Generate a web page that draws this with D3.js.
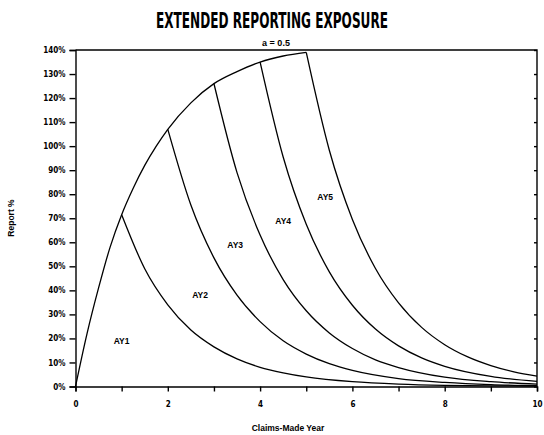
<!DOCTYPE html>
<html>
<head>
<meta charset="utf-8">
<script src="https://cdn.jsdelivr.net/npm/d3@7"></script>
<style>
  body { margin: 0; background: #fff; }
  text { font-family: "Liberation Sans", Arial, sans-serif; font-weight: bold; fill: #000; }
  .axis path, .axis line { stroke: #000; stroke-width: 1.4; }
  .axis text { font-family: "DejaVu Sans Condensed", "Liberation Sans", sans-serif; font-size: 8px; font-weight: bold; }
  .curve { fill: none; stroke: #000; stroke-width: 1.3; }
</style>
</head>
<body>
<div id="chart"></div>
<script>
// values (claims-made year, report %)
var envelopeT = [0, 0.25, 0.5, 0.75, 1, 1.25, 1.5, 1.75, 2, 2.5, 3, 3.5, 4, 4.5, 5];
var envelopeV = [0, 22, 41, 58, 71.5, 82.5, 92, 100, 107, 118, 126, 131, 135, 137.5, 139];

var ay1T = [1, 1.5, 2, 2.5, 3, 3.5, 4, 4.5, 5, 6, 7, 8, 9, 10];
var ay1V = [71.5, 49, 34, 23.5, 16.5, 11.5, 8, 5.7, 4, 2, 1, 0.5, 0.3, 0.2];
var ay2T = [2, 2.5, 3, 3.5, 4, 4.5, 5, 5.5, 6, 7, 8, 9, 10];
var ay2V = [107, 75.5, 53.5, 38, 27, 19, 13.5, 9.5, 6.7, 3.3, 1.7, 0.8, 0.4];
var ay3T = [3, 3.5, 4, 4.5, 5, 5.5, 6, 6.5, 7, 8, 9, 10];
var ay3V = [126, 89, 63, 44.5, 31.5, 22.3, 15.8, 11.1, 7.9, 3.9, 2, 1];
var ay4T = [4, 4.5, 5, 5.5, 6, 6.5, 7, 7.5, 8, 9, 10];
var ay4V = [135, 95.5, 67.5, 47.7, 33.8, 23.9, 16.9, 11.9, 8.4, 4.2, 2.1];
var ay5T = [5, 5.5, 6, 6.5, 7, 7.5, 8, 8.5, 9, 9.5, 10];
var ay5V = [139, 98.3, 69.5, 49.1, 34.8, 24.6, 17.4, 12.3, 8.7, 6.1, 4.3];

var labelNames = ["AY1", "AY2", "AY3", "AY4", "AY5"];
var labelT = [1.0, 2.7, 3.46, 4.5, 5.41];
var labelV = [19, 38, 59, 69, 79];

var yTicks = [0, 10, 20, 30, 40, 50, 60, 70, 80, 90, 100, 110, 120, 130, 140];
var xTicks = [0, 1, 2, 3, 4, 5, 6, 7, 8, 9, 10];

var margin = {top: 50, right: 7, bottom: 48.5, left: 75.5},
    width = 544 - margin.left - margin.right,
    height = 435 - margin.top - margin.bottom;

var x = d3.scaleLinear().domain([0, 10]).range([0, width]);
var y = d3.scaleLinear().domain([0, 140]).range([height, 0]);

var root = d3.select("#chart")
    .append("svg")
    .attr("width", 544)
    .attr("height", 435);

var svg = root.append("g")
    .attr("transform", "translate(" + margin.left + "," + margin.top + ")");

// frame on top and right
svg.append("path")
    .attr("d", "M0,0H" + width + "V" + height)
    .attr("fill", "none")
    .attr("stroke", "#000")
    .attr("stroke-width", 1.4);

svg.append("g")
    .attr("class", "axis")
    .attr("transform", "translate(0," + height + ")")
    .call(d3.axisBottom(x).tickValues(xTicks).tickSize(5).tickPadding(10)
      .tickFormat(function(d) { return d % 2 === 0 ? d : ""; }));

svg.append("g")
    .attr("class", "axis")
    .call(d3.axisLeft(y).tickValues(yTicks).tickSize(6).tickPadding(4)
      .tickFormat(function(d) { return d + "%"; }));

// small inward ticks on the right border
svg.append("g")
    .attr("class", "axis")
    .attr("transform", "translate(" + width + ",0)")
    .call(d3.axisLeft(y).tickValues(yTicks).tickSize(3).tickFormat(""))
    .select(".domain").remove();

var line = d3.line()
    .x(function(d) { return x(d[0]); })
    .y(function(d) { return y(d[1]); })
    .curve(d3.curveMonotoneX);

var series = [
  [envelopeT, envelopeV],
  [ay1T, ay1V], [ay2T, ay2V], [ay3T, ay3V], [ay4T, ay4V], [ay5T, ay5V]
];

svg.selectAll(".curve")
    .data(series)
    .enter().append("path")
    .attr("class", "curve")
    .attr("d", function(s) { return line(d3.zip(s[0], s[1])); });

svg.selectAll(".ay")
    .data(labelNames)
    .enter().append("text")
    .attr("class", "ay")
    .attr("x", function(d, i) { return x(labelT[i]); })
    .attr("y", function(d, i) { return y(labelV[i]); })
    .attr("dy", ".35em")
    .style("text-anchor", "middle")
    .style("font-size", "8.5px")
    .text(function(d) { return d; });

// titles
root.append("text")
    .attr("x", 272)
    .attr("y", 28)
    .attr("textLength", 232)
    .attr("lengthAdjust", "spacingAndGlyphs")
    .style("text-anchor", "middle")
    .style("font-family", "'DejaVu Sans Condensed', sans-serif")
    .style("font-size", "21px")
    .text("EXTENDED REPORTING EXPOSURE");

root.append("text")
    .attr("x", 276)
    .attr("y", 46)
    .style("text-anchor", "middle")
    .style("font-size", "9px")
    .text("a = 0.5");

root.append("text")
    .attr("x", 288)
    .attr("y", 431)
    .style("text-anchor", "middle")
    .style("font-size", "8.5px")
    .text("Claims-Made Year");

root.append("text")
    .attr("transform", "translate(14,218) rotate(-90)")
    .style("text-anchor", "middle")
    .style("font-size", "8.5px")
    .text("Report %");
</script>
</body>
</html>
